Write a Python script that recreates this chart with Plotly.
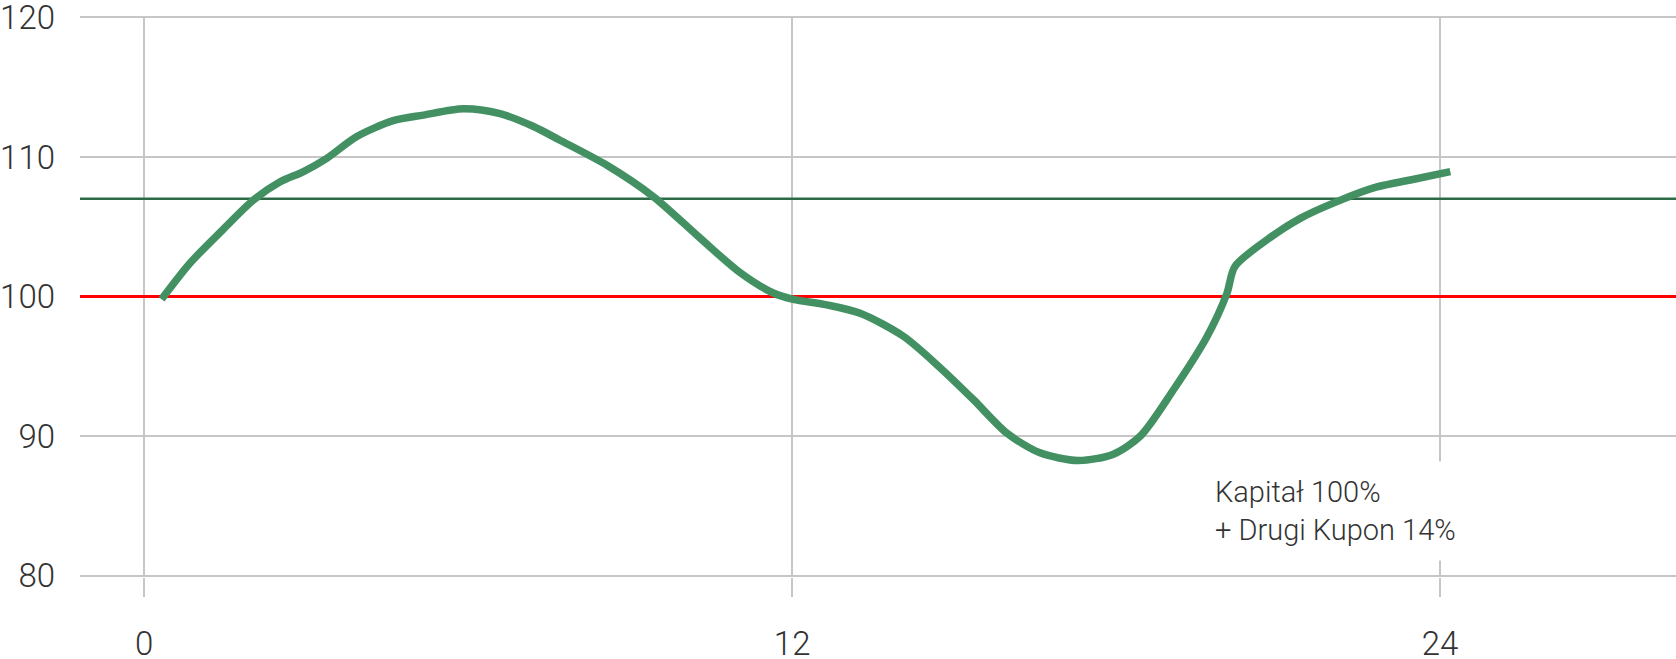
import plotly.graph_objects as go

# Data (months vs. index level)
months = [0.32, 0.85, 1.46, 2.02, 2.51, 2.95, 3.38, 3.93, 4.61, 5.17, 5.91,
          6.59, 7.2, 7.7, 8.57, 9.43, 10.29, 11.04, 11.65, 12.02, 12.64,
          13.26, 14.06, 14.74, 15.36, 15.98, 16.59, 17.3, 17.95, 18.45,
          19.06, 19.68, 20.05, 20.2, 20.79, 21.41, 22.09, 22.83, 23.45, 24.19]
level = [99.8, 102.4, 104.8, 106.9, 108.2, 108.95, 109.9, 111.45, 112.6, 113.0,
         113.45, 113.1, 112.2, 111.2, 109.4, 107.15, 104.2, 101.7, 100.25,
         99.8, 99.4, 98.8, 97.15, 94.9, 92.6, 90.2, 88.8, 88.25, 88.7, 90.0,
         93.3, 97.1, 100.2, 102.15, 104.05, 105.6, 106.8, 107.85, 108.35,
         108.95]

capital_level = 100
barrier_level = 107

x_range = [-1.19, 28.37]
y_range = [79.9, 120.1]
x_ticks = [0, 12, 24]
y_ticks = [80, 90, 100, 110, 120]

annotation_text = "Kapitał 100%<br>+ Drugi Kupon 14%"
annotation_x = 19.58
annotation_y = 84.63

FONT = "Roboto"
TEXT_COLOR = "#333333"
GRID = "#c6c6c6"

fig = go.Figure()
fig.add_trace(go.Scatter(
    x=x_range, y=[barrier_level, barrier_level], mode="lines",
    line=dict(color="#2e6a47", width=2.5), hoverinfo="skip", showlegend=False,
))
fig.add_trace(go.Scatter(
    x=x_range, y=[capital_level, capital_level], mode="lines",
    line=dict(color="#ff0000", width=3), hoverinfo="skip", showlegend=False,
))
fig.add_trace(go.Scatter(
    x=months, y=level, mode="lines",
    line=dict(color="#439163", width=7.5, shape="spline", smoothing=0.8),
    hoverinfo="skip", showlegend=False,
))

fig.add_annotation(
    x=annotation_x, y=annotation_y, xref="x", yref="y",
    text=annotation_text, showarrow=False, align="left",
    xanchor="left", yanchor="middle",
    font=dict(family=FONT, size=29, color=TEXT_COLOR, weight=300),
    bgcolor="white", borderpad=13,
)

fig.update_xaxes(
    range=x_range, tickvals=x_ticks, showgrid=True, gridcolor=GRID,
    gridwidth=2, zeroline=False, showline=False, automargin=False,
    ticks="outside", ticklen=19, tickcolor=GRID, tickwidth=2,
    ticklabelstandoff=18, ticklabeloverflow="allow",
    tickfont=dict(family=FONT, size=33, color=TEXT_COLOR, weight=300),
)
fig.update_yaxes(
    range=y_range, tickvals=y_ticks, showgrid=True, gridcolor=GRID,
    gridwidth=2, zeroline=False, showline=False, ticks="", automargin=False,
    ticklabelstandoff=24, ticklabeloverflow="allow",
    tickfont=dict(family=FONT, size=33, color=TEXT_COLOR, weight=300),
)

fig.update_layout(
    width=1676, height=659,
    margin=dict(l=80, r=0, t=16, b=82),
    plot_bgcolor="white", paper_bgcolor="white",
)

fig.write_html("out.html",
               config={"displayModeBar": False},
               post_script="document.body.style.margin='0px';"
                           "document.body.style.overflow='hidden';")
